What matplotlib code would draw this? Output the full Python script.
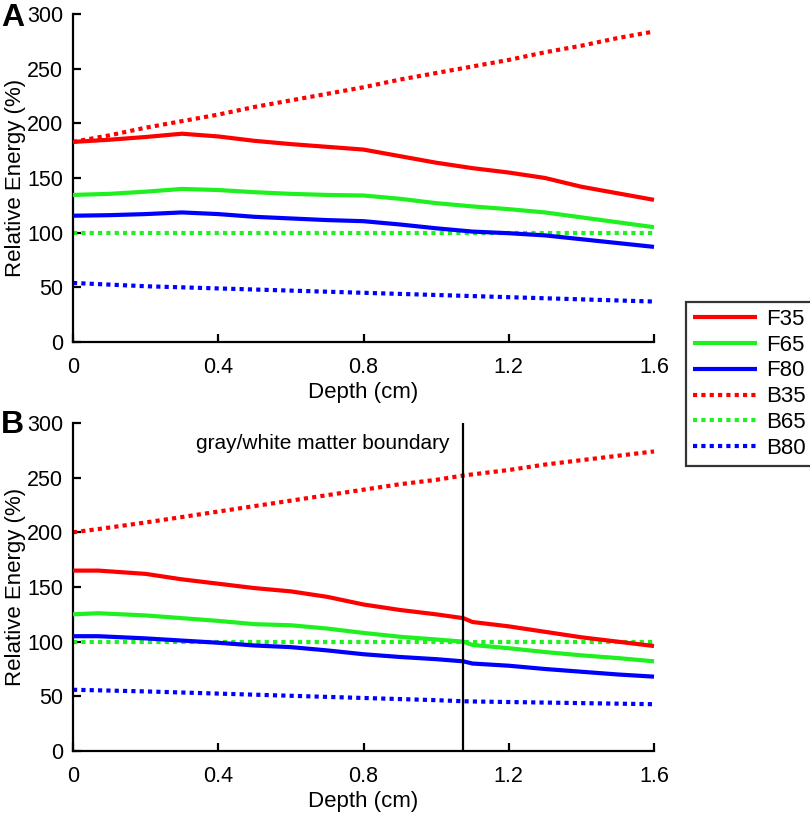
import matplotlib
matplotlib.use("Agg")
import matplotlib.pyplot as plt
from matplotlib.lines import Line2D

plt.rcParams['font.family'] = ['Liberation Sans', 'DejaVu Sans']

# ---------------- data ----------------
depth_A = [0, 0.1, 0.2, 0.3, 0.4, 0.5, 0.6, 0.7, 0.8, 0.9, 1.0, 1.1, 1.2, 1.3, 1.4, 1.5, 1.6]
F35_A = [183, 185, 187.5, 190.5, 188, 184, 181, 178.5, 176, 170, 164, 159, 155, 150, 142, 136, 130]
F65_A = [134.5, 135.5, 137.5, 140, 139, 137, 135.5, 134.5, 134, 131, 127, 124, 121.5, 118.5, 114, 109.5, 105]
F80_A = [115.5, 116, 117, 118.5, 117, 114.5, 113, 111.5, 110.5, 107.5, 104, 101, 99.5, 97.5, 94, 90.5, 87]
B35_A = [183, 189, 196, 202, 208, 215, 221, 227, 233, 240, 246, 252, 258, 265, 271, 278, 284]
B65_A = [100, 100, 100, 100, 100, 100, 100, 100, 100, 100, 100, 100, 100, 100, 100, 100, 100]
B80_A = [54, 52.5, 51, 50, 49, 48, 47, 46, 45, 44, 43, 42, 41, 40, 39, 38, 37]

depth_B = [0, 0.07, 0.2, 0.3, 0.4, 0.5, 0.6, 0.7, 0.8, 0.9, 1.0, 1.075, 1.1, 1.2, 1.3, 1.4, 1.5, 1.6]
F35_B = [165, 165, 162, 157, 153, 149, 146, 141, 134, 129, 125, 121.5, 118, 114, 109, 104, 100, 96]
F65_B = [125, 126, 124, 121.5, 119, 116, 115, 112, 108, 104.5, 102, 100, 97, 94, 90.5, 87.5, 85, 82]
F80_B = [105, 105, 103, 101, 99, 96.5, 95, 92, 88.5, 86, 84, 82, 80, 78, 75, 72.5, 70, 68]
B35_B = [200, 203, 209, 214, 219, 224, 229, 234, 239, 244, 248, 252, 253, 257, 262, 266, 270, 274]
B65_B = [100] * 18
B80_B = [56, 55.5, 54.5, 53.5, 52.5, 51.5, 50.5, 49.5, 48.5, 47.5, 46.5, 45.5, 45.3, 44.8, 44.3, 43.8, 43.3, 42.8]

boundary_depth = 1.075
series_names = ['F35', 'F65', 'F80', 'B35', 'B65', 'B80']
x_ticks = [0, 0.4, 0.8, 1.2, 1.6]
x_ticklabels = ['0', '0.4', '0.8', '1.2', '1.6']
y_ticks = [0, 50, 100, 150, 200, 250, 300]

RED = '#ff0000'
GREEN = '#1ff01f'
BLUE = '#0000ff'
colors = [RED, GREEN, BLUE, RED, GREEN, BLUE]
dotted = (0, (1, 1))

fig = plt.figure(figsize=(8.1, 8.14), dpi=100)
W, H = 810, 814
def rect(l, r, b, t):
    return [l / W, 1 - b / H, (r - l) / W, (b - t) / H]

axA = fig.add_axes(rect(73, 654, 342, 14))
axB = fig.add_axes(rect(73, 654, 751, 423))

def style(ax):
    ax.set_xlim(0, 1.6)
    ax.set_ylim(0, 300)
    ax.set_xticks(x_ticks)
    ax.set_xticklabels(x_ticklabels)
    ax.set_yticks(y_ticks)
    for s in ['top', 'right']:
        ax.spines[s].set_visible(False)
    for s in ['left', 'bottom']:
        ax.spines[s].set_linewidth(1.6)
    ax.tick_params(direction='in', length=6, width=1.6, labelsize=15.5)
    ax.tick_params(axis='y', pad=7)
    ax.tick_params(axis='x', pad=11)
    ax.set_xlabel('Depth (cm)', fontsize=16, labelpad=3)
    ax.set_ylabel('Relative Energy (%)', fontsize=16, labelpad=1)

def draw(ax, x, data):
    for i, (name, y) in enumerate(zip(series_names, data)):
        ls = '-' if name.startswith('F') else dotted
        ax.plot(x, y, color=colors[i], lw=3, linestyle=ls,
                dash_capstyle='butt', solid_capstyle='butt', label=name,
                zorder=3 if name.startswith('F') else 2, clip_on=False)

draw(axA, depth_A, [F35_A, F65_A, F80_A, B35_A, B65_A, B80_A])
draw(axB, depth_B, [F35_B, F65_B, F80_B, B35_B, B65_B, B80_B])
style(axA)
style(axB)

axB.plot([boundary_depth, boundary_depth], [0, 300], color='black', lw=1.6, zorder=4)
axB.text(0.339, 281, 'gray/white matter boundary', fontsize=15, va='center', ha='left')

fig.text(0.001, 0.996, 'A', fontsize=23, fontweight='bold', va='top', ha='left')
fig.text(0.001, 0.496, 'B', fontsize=23, fontweight='bold', va='top', ha='left')

handles = []
for i, name in enumerate(series_names):
    ls = '-' if name.startswith('F') else dotted
    handles.append(Line2D([0], [0], color=colors[i], lw=3, linestyle=ls,
                          dash_capstyle='butt', solid_capstyle='butt'))
leg = fig.legend(handles, series_names, loc='upper left',
                 bbox_to_anchor=(686 / W, 1 - 302 / H), fontsize=16,
                 frameon=True, fancybox=False, edgecolor='black',
                 handlelength=2.9, handletextpad=0.4, labelspacing=0.22,
                 borderpad=0.3, borderaxespad=0)
leg.get_frame().set_linewidth(1.6)

fig.savefig('out.png', dpi=100)
